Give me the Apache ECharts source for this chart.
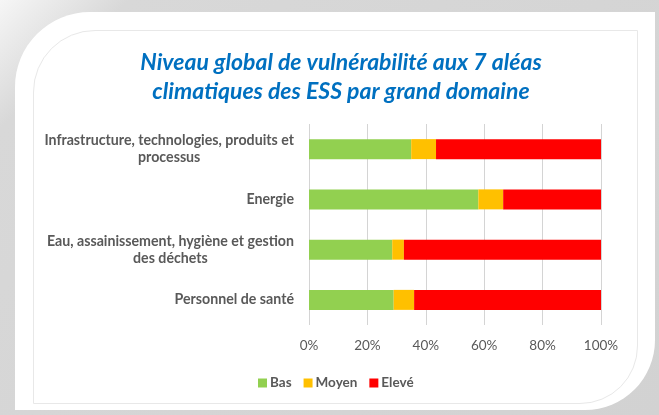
<!DOCTYPE html>
<html>
<head>
<meta charset="utf-8">
<script src="https://cdn.jsdelivr.net/npm/echarts@6/dist/echarts.min.js"></script>
<style>
  html, body { margin: 0; padding: 0; }
  body {
    width: 659px; height: 415px; overflow: hidden; position: relative;
    background: linear-gradient(135deg, #f6f6f6 0%, #d8d8d8 12%, #d2d2d2 100%);
  }
  .card {
    position: absolute; left: 15px; top: 12px; width: 640px; height: 398px;
    background: #fff; border-radius: 75px 0 70px 0;
  }
  .inner {
    position: absolute; left: 33px; top: 30px; width: 603px; height: 372px;
    border: 1px solid #e8e8e8; border-radius: 62px 0 58px 0;
  }
  #chart { position: absolute; left: 0; top: 0; width: 659px; height: 415px; }
</style>
</head>
<body>
<div class="card"></div>
<div class="inner"></div>
<div id="chart"></div>
<script>
// domaines (de haut en bas)
var categories = [
  "Infrastructure, technologies, produits et\nprocessus",
  "Energie",
  "Eau, assainissement, hygiène et gestion\ndes déchets",
  "Personnel de santé"
];
var bas = [35, 58, 28.5, 29];
var moyen = [8.5, 8.5, 4, 7];
var eleve = [56.5, 33.5, 67.5, 64];

var chart = echarts.init(document.getElementById("chart"));

var option = {
  backgroundColor: "transparent",
  title: {
    text: "Niveau global de vulnérabilité aux 7 aléas\nclimatiques des ESS par grand domaine",
    left: 336,
    textAlign: "center",
    top: 43,
    textStyle: {
      fontFamily: "Lato",
      fontStyle: "italic",
      fontWeight: "bold",
      fontSize: 23,
      lineHeight: 29,
      color: "#0070C0"
    }
  },
  legend: {
    left: 253,
    top: 371,
    itemWidth: 9,
    itemHeight: 9,
    itemGap: 12,
    icon: "rect",
    textStyle: {
      fontFamily: "Lato",
      fontWeight: "bold",
      fontSize: 13.5,
      color: "#595959",
      padding: [0, 0, 0, -2]
    },
    data: ["Bas", "Moyen", "Elevé"]
  },
  grid: {
    left: 309,
    right: 58,
    top: 124,
    height: 201,
    containLabel: false
  },
  xAxis: {
    type: "value",
    min: 0,
    max: 100,
    interval: 20,
    axisLine: { show: false },
    axisTick: { show: false },
    axisLabel: {
      formatter: "{value}%",
      margin: 14,
      fontFamily: "Lato",
      fontSize: 13.5,
      color: "#595959"
    },
    splitLine: { lineStyle: { color: "#d4d4d4", width: 1 } }
  },
  yAxis: {
    type: "category",
    inverse: true,
    data: categories,
    axisLine: { show: false },
    axisTick: { show: false },
    axisLabel: {
      margin: 15,
      align: "right",
      formatter: function (v) {
        return v.split("\n").map(function (s) { return "{c|" + s + "}"; }).join("\n");
      },
      rich: {
        c: {
          align: "center",
          fontFamily: "Lato",
          fontWeight: "bold",
          fontSize: 14.2,
          lineHeight: 17,
          color: "#595959"
        }
      }
    }
  },
  series: [
    { name: "Bas", type: "bar", stack: "total", barWidth: 20, data: bas, itemStyle: { color: "#92D050" } },
    { name: "Moyen", type: "bar", stack: "total", barWidth: 20, data: moyen, itemStyle: { color: "#FFC000" } },
    { name: "Elevé", type: "bar", stack: "total", barWidth: 20, data: eleve, itemStyle: { color: "#FF0000" } }
  ]
};

chart.setOption(option);
</script>
</body>
</html>
